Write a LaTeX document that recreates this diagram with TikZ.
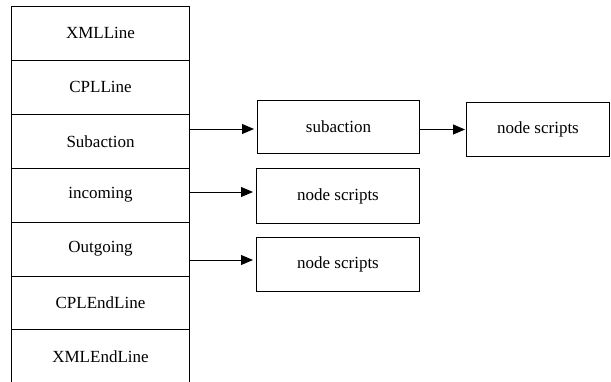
\documentclass[tikz,border=0pt]{standalone}
\usepackage{fontspec}
\setmainfont{Liberation Serif}
\usetikzlibrary{arrows.meta}
\begin{document}
\begin{tikzpicture}[x=1pt,y=-1pt,
  cell/.style={draw, line width=1pt, minimum width=178pt, minimum height=53.9pt, inner sep=0pt, anchor=north west, font=\fontsize{17}{20}\selectfont},
  box/.style={draw, line width=1pt, inner sep=0pt, anchor=north west, font=\fontsize{17}{20}\selectfont},
  link/.style={line width=1pt, -{Triangle[length=12pt,width=10pt]}, shorten >=3pt}]
\path[use as bounding box, clip] (0,0) rectangle (611,381);
\node[cell] (r1) at (11,6) {XMLLine};
\node[cell] (r2) at (11,59.9) {CPLLine};
\node[cell] (r3) at (11,113.8) {Subaction};
\node[cell] (r4) at (11,167.7) {incoming};
\node[cell] (r5) at (11,221.6) {Outgoing};
\node[cell] (r6) at (11,275.5) {CPLEndLine};
\node[cell] (r7) at (11,329.4) {XMLEndLine};
\node[box, minimum width=162pt, minimum height=53pt] (sub) at (257,100) {subaction};
\node[box, minimum width=143pt, minimum height=54pt] (ns1) at (466,102) {node scripts};
\node[box, minimum width=163pt, minimum height=55pt] (ns2) at (256,168) {node scripts};
\node[box, minimum width=163pt, minimum height=54pt] (ns3) at (256,237) {node scripts};
\coordinate (a1) at (189,129);
\coordinate (a2) at (189,192);
\coordinate (a3) at (189,260);
\draw[link] (a1) -- (a1 -| sub.west);
\draw[link] (a2) -- (a2 -| ns2.west);
\draw[link] (a3) -- (a3 -| ns3.west);
\draw[link, shorten >=1pt] (sub.east |- ns1.west) -- (ns1.west);
\end{tikzpicture}
\end{document}
